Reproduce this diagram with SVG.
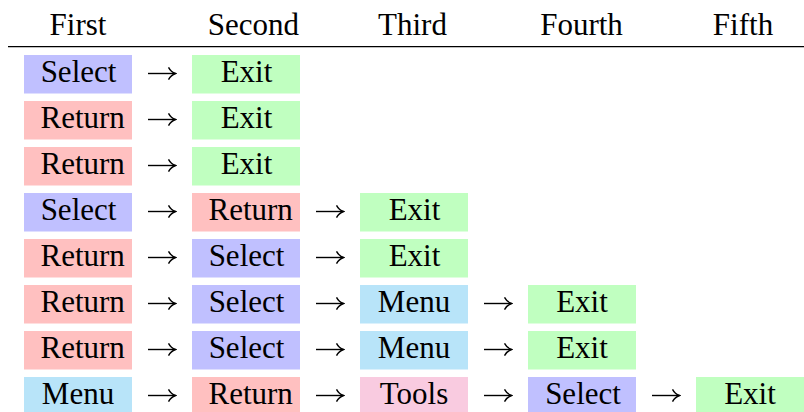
<svg xmlns="http://www.w3.org/2000/svg" width="804" height="412" viewBox="0 0 804 412">
<style>
text{font-family:'Liberation Serif','Times New Roman','DejaVu Serif',serif;font-size:31px;fill:#000}
.c{text-anchor:middle}
.s{fill:#c0c0ff}.r{fill:#ffc0c0}.e{fill:#c0ffc0}.m{fill:#b8e4f9}.t{fill:#f9cbe0}
.a{stroke:#000;stroke-width:1.4;fill:none}
</style>
<defs>
<marker id="ah" viewBox="0 0 10 14" refX="9" refY="7" markerWidth="10" markerHeight="14" markerUnits="userSpaceOnUse" orient="auto">
<path d="M2,0.8 Q4.5,5.5 9,7 Q4.5,8.5 2,13.2" fill="none" stroke="#000" stroke-width="1.4"/>
</marker>
</defs>
<g font-family="Liberation Serif, Times New Roman, serif">
<g id="header">
<text class="c" x="78" y="35">First</text>
<text class="c" x="253.5" y="35">Second</text>
<text class="c" x="412.5" y="35">Third</text>
<text class="c" x="581.5" y="35">Fourth</text>
<text class="c" x="743" y="35">Fifth</text>
<line x1="8" y1="46.7" x2="804" y2="46.7" stroke="#000" stroke-width="1.3"/>
</g>
<g id="r1">
<g id="n1a"><rect class="s" x="24" y="55" width="108" height="38.5"/><text class="c" x="78.5" y="81.5">Select</text></g>
<g id="n1b"><rect class="e" x="192" y="55" width="108" height="38.5"/><text class="c" x="246.5" y="81.5">Exit</text></g>
</g>
<g id="r2">
<g id="n2a"><rect class="r" x="24" y="101" width="108" height="38.5"/><text x="40.5" y="127.5">Return</text></g>
<g id="n2b"><rect class="e" x="192" y="101" width="108" height="38.5"/><text class="c" x="246.5" y="127.5">Exit</text></g>
</g>
<g id="r3">
<g id="n3a"><rect class="r" x="24" y="147" width="108" height="38.5"/><text x="40.5" y="173.5">Return</text></g>
<g id="n3b"><rect class="e" x="192" y="147" width="108" height="38.5"/><text class="c" x="246.5" y="173.5">Exit</text></g>
</g>
<g id="r4">
<g id="n4a"><rect class="s" x="24" y="193" width="108" height="38.5"/><text class="c" x="78.5" y="219.5">Select</text></g>
<g id="n4b"><rect class="r" x="192" y="193" width="108" height="38.5"/><text x="208.5" y="219.5">Return</text></g>
<g id="n4c"><rect class="e" x="360" y="193" width="108" height="38.5"/><text class="c" x="414.5" y="219.5">Exit</text></g>
</g>
<g id="r5">
<g id="n5a"><rect class="r" x="24" y="239" width="108" height="38.5"/><text x="40.5" y="265.5">Return</text></g>
<g id="n5b"><rect class="s" x="192" y="239" width="108" height="38.5"/><text class="c" x="246.5" y="265.5">Select</text></g>
<g id="n5c"><rect class="e" x="360" y="239" width="108" height="38.5"/><text class="c" x="414.5" y="265.5">Exit</text></g>
</g>
<g id="r6">
<g id="n6a"><rect class="r" x="24" y="285" width="108" height="38.5"/><text x="40.5" y="311.5">Return</text></g>
<g id="n6b"><rect class="s" x="192" y="285" width="108" height="38.5"/><text class="c" x="246.5" y="311.5">Select</text></g>
<g id="n6c"><rect class="m" x="360" y="285" width="108" height="38.5"/><text class="c" x="414" y="311.5">Menu</text></g>
<g id="n6d"><rect class="e" x="528" y="285" width="108" height="38.5"/><text class="c" x="582" y="311.5">Exit</text></g>
</g>
<g id="r7">
<g id="n7a"><rect class="r" x="24" y="331" width="108" height="38.5"/><text x="40.5" y="357.5">Return</text></g>
<g id="n7b"><rect class="s" x="192" y="331" width="108" height="38.5"/><text class="c" x="246.5" y="357.5">Select</text></g>
<g id="n7c"><rect class="m" x="360" y="331" width="108" height="38.5"/><text class="c" x="414" y="357.5">Menu</text></g>
<g id="n7d"><rect class="e" x="528" y="331" width="108" height="38.5"/><text class="c" x="582" y="357.5">Exit</text></g>
</g>
<g id="r8">
<g id="n8a"><rect class="m" x="24" y="377" width="108" height="38.5"/><text class="c" x="78" y="403.5">Menu</text></g>
<g id="n8b"><rect class="r" x="192" y="377" width="108" height="38.5"/><text x="208.5" y="403.5">Return</text></g>
<g id="n8c"><rect class="t" x="360" y="377" width="108" height="38.5"/><text class="c" x="414" y="403.5">Tools</text></g>
<g id="n8d"><rect class="s" x="528" y="377" width="108" height="38.5"/><text class="c" x="583" y="403.5">Select</text></g>
<g id="n8e"><rect class="e" x="696" y="377" width="108" height="38.5"/><text class="c" x="750" y="403.5">Exit</text></g>
</g>
</g>
<g id="connectors" class="a" marker-end="url(#ah)">
<path d="M148,73.5H175.5"/><path d="M148,119.5H175.5"/><path d="M148,165.5H175.5"/>
<path d="M148,211.5H175.5"/><path d="M316,211.5H343.5"/>
<path d="M148,257.5H175.5"/><path d="M316,257.5H343.5"/>
<path d="M148,303.5H175.5"/><path d="M316,303.5H343.5"/><path d="M484,303.5H511.5"/>
<path d="M148,349.5H175.5"/><path d="M316,349.5H343.5"/><path d="M484,349.5H511.5"/>
<path d="M148,395.5H175.5"/><path d="M316,395.5H343.5"/><path d="M484,395.5H511.5"/><path d="M652,395.5H679.5"/>
</g>
</svg>
